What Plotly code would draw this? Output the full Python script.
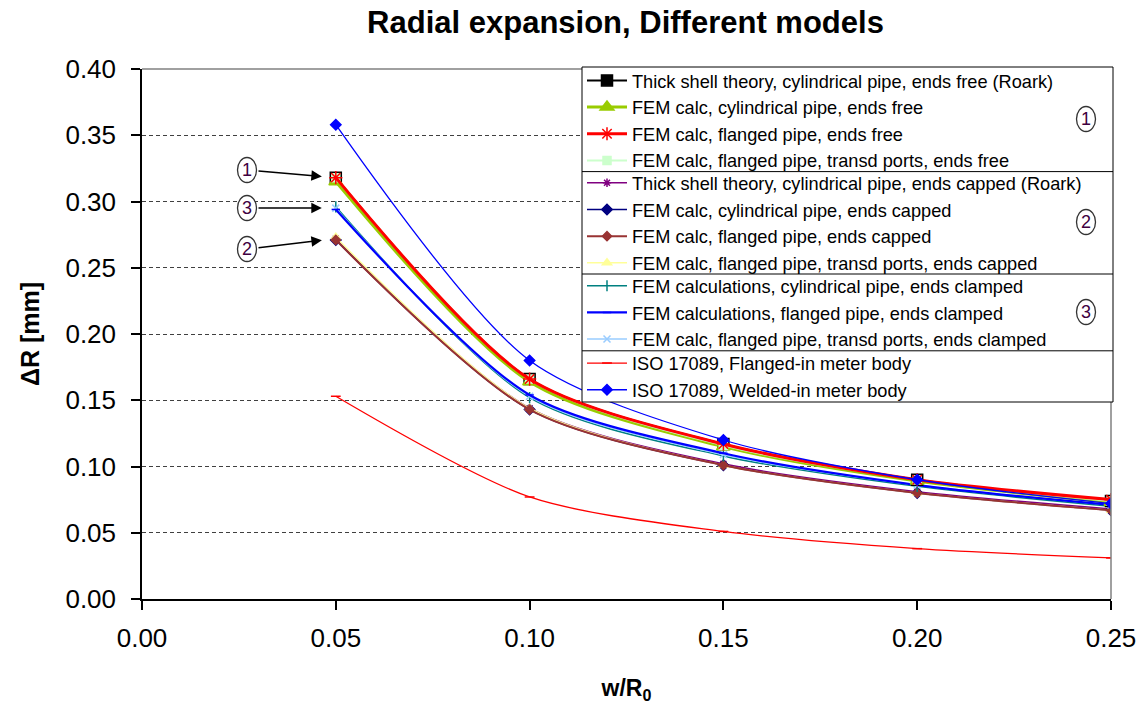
import plotly.graph_objects as go

# ---------------- data ----------------
x_vals = [0.05, 0.10, 0.15, 0.20, 0.25]

names = [
    "Thick shell theory, cylindrical pipe, ends free (Roark)",
    "FEM calc, cylindrical pipe, ends free",
    "FEM calc, flanged pipe, ends free",
    "FEM calc, flanged pipe, transd ports, ends free",
    "Thick shell theory, cylindrical pipe, ends capped (Roark)",
    "FEM calc, cylindrical pipe, ends capped",
    "FEM calc, flanged pipe, ends capped",
    "FEM calc, flanged pipe, transd ports, ends capped",
    "FEM calculations, cylindrical pipe, ends clamped",
    "FEM calculations, flanged pipe, ends clamped",
    "FEM calc, flanged pipe, transd ports, ends clamped",
    "ISO 17089, Flanged-in meter body",
    "ISO 17089, Welded-in meter body",
]
# legend block of each series (1: ends free, 2: ends capped, 3: ends clamped, 4: ISO)
groups = [1, 1, 1, 1, 2, 2, 2, 2, 3, 3, 3, 4, 4]

thick_free = [0.318, 0.166, 0.117, 0.090, 0.074]
fem_cyl_free = [0.315, 0.164, 0.115, 0.089, 0.073]
fem_fl_free = [0.318, 0.166, 0.117, 0.090, 0.075]
fem_tp_free = [0.318, 0.166, 0.116, 0.090, 0.074]
thick_capped = [0.272, 0.144, 0.102, 0.081, 0.068]
fem_cyl_capped = [0.271, 0.143, 0.101, 0.080, 0.067]
fem_fl_capped = [0.271, 0.143, 0.101, 0.080, 0.067]
fem_tp_capped = [0.273, 0.144, 0.101, 0.080, 0.067]
fem_cyl_clamped = [0.296, 0.152, 0.108, 0.085, 0.070]
fem_fl_clamped = [0.294, 0.154, 0.110, 0.086, 0.071]
fem_tp_clamped = [0.295, 0.153, 0.109, 0.086, 0.071]
iso_flanged = [0.153, 0.077, 0.051, 0.038, 0.031]
iso_welded = [0.358, 0.180, 0.120, 0.090, 0.072]

series = [thick_free, fem_cyl_free, fem_fl_free, fem_tp_free,
          thick_capped, fem_cyl_capped, fem_fl_capped, fem_tp_capped,
          fem_cyl_clamped, fem_fl_clamped, fem_tp_clamped,
          iso_flanged, iso_welded]

colors = ["#000000", "#99CC00", "#FF0000", "#CCFFCC",
          "#800080", "#000080", "#993333", "#FFFF99",
          "#008080", "#0000FF", "#99CCFF",
          "#FF0000", "#0000FF"]
widths = [2, 3, 3, 2, 1.5, 1.5, 2, 1.5, 1.5, 2.2, 1.5, 1.3, 1.3]
symbols = ["square", "triangle-up", "asterisk-open", "square",
           "asterisk-open", "diamond", "diamond", "triangle-up",
           "line-ns-open", "line-ew-open", "x-thin-open",
           "line-ew-open", "diamond"]
msizes = [11, 12, 11, 8, 7, 8, 7, 8, 8, 6, 7, 7, 8]

# drawing order (later = on top); legend keeps the list order above
draw_order = [4, 5, 7, 6, 8, 10, 9, 0, 1, 3, 2, 11, 12]

x_ticks = [0.00, 0.05, 0.10, 0.15, 0.20, 0.25]
y_ticks = [0.00, 0.05, 0.10, 0.15, 0.20, 0.25, 0.30, 0.35, 0.40]

FONT = "Liberation Sans, Arial, sans-serif"
LEG_FONT = 18.2
ROW_H = LEG_FONT * 1.3 + 3  # plotly legend row height

legend_ids = {1: "legend", 2: "legend2", 3: "legend3", 4: "legend4"}

fig = go.Figure()
for i in draw_order:
    c = colors[i]
    fig.add_trace(go.Scatter(
        x=x_vals, y=series[i], name=names[i], mode="lines+markers",
        legend=legend_ids[groups[i]], legendrank=i + 1,
        line=dict(color=c, width=widths[i], shape="spline", smoothing=0.8),
        marker=dict(symbol=symbols[i], size=msizes[i], color=c,
                    line=dict(color=c, width=1.5)),
    ))

# plot area pixel geometry
L, R, T, B = 142, 1111, 69, 599
W, H = R - L, B - T
def px(xp):
    return (xp - L) / W
def py(yp):
    return (B - yp) / H

shapes = []
# top and right frame lines (gray)
shapes.append(dict(type="line", xref="paper", yref="paper", x0=0, x1=1, y0=1, y1=1,
                   line=dict(color="#808080", width=1.5)))
shapes.append(dict(type="line", xref="paper", yref="paper", x0=1, x1=1, y0=0, y1=1,
                   line=dict(color="#808080", width=1.5)))

# legend frame (white box) and group separators
LEG_L, LEG_R, LEG_T, LEG_B = 582, 1113, 67, 402
REF_ROW0, REF_ROW_H = 82, 25.6
shapes.append(dict(type="rect", xref="paper", yref="paper", layer="above",
                   x0=px(LEG_L), x1=px(LEG_R), y0=py(LEG_B), y1=py(LEG_T),
                   fillcolor="white", line=dict(color="black", width=1)))
for k in [3.5, 7.5, 10.5]:
    sy = REF_ROW0 + k * REF_ROW_H
    shapes.append(dict(type="line", xref="paper", yref="paper", layer="above",
                       x0=px(LEG_L), x1=px(LEG_R), y0=py(sy), y1=py(sy),
                       line=dict(color="#000000", width=1)))

annotations = []
def circle_shape(cx, cy):
    shapes.append(dict(type="circle", xref="paper", yref="paper", layer="above",
                       x0=px(cx - 9.5), x1=px(cx + 9.5), y0=py(cy + 12.5), y1=py(cy - 12.5),
                       line=dict(color="#333333", width=1.3), fillcolor="white"))

DIGIT_FONT = dict(family=FONT, size=18, color="#400040")

# circled labels with arrows pointing at the groups (label at arrow tail)
for label, yv, cy in [("1", thick_free[0], 170), ("3", fem_tp_clamped[0], 208), ("2", thick_capped[0], 249)]:
    circle_shape(247, cy)
    head_y = B - yv / 0.40 * H
    x_head = L + x_vals[0] / 0.25 * W
    annotations.append(dict(x=x_vals[0], y=yv, xref="x", yref="y", text=label,
                            font=DIGIT_FONT, borderpad=6,
                            showarrow=True, ax=247 - x_head, ay=cy - head_y,
                            axref="pixel", ayref="pixel",
                            arrowhead=2, arrowsize=1.4, arrowwidth=1.5, arrowcolor="#000000",
                            standoff=14))

# circled group numbers inside the legend
for label, cy in [("1", 119), ("2", 222), ("3", 312)]:
    circle_shape(1086, cy)
    annotations.append(dict(xref="paper", yref="paper", x=px(1086), y=py(cy), text=label,
                            showarrow=False, font=DIGIT_FONT,
                            xanchor="center", yanchor="middle"))

# one native legend per block, centred on the reference rows
legend_layouts = {}
row_start = 0
for g, n in [(1, 4), (2, 4), (3, 3), (4, 2)]:
    mean_center = REF_ROW0 + (row_start + (n - 1) / 2) * REF_ROW_H
    top = mean_center - n * ROW_H / 2 - 5
    legend_layouts[legend_ids[g]] = dict(
        x=px(LEG_L), y=py(top), xanchor="left", yanchor="top",
        bgcolor="rgba(0,0,0,0)", borderwidth=0,
        font=dict(family=FONT, size=LEG_FONT, color="black"),
        itemwidth=40, tracegroupgap=0, traceorder="normal")
    row_start += n

fig.update_layout(
    width=1144, height=704,
    margin=dict(l=L, r=1144 - R, t=T, b=704 - B, autoexpand=False),
    paper_bgcolor="white", plot_bgcolor="white",
    title=dict(text="<b>Radial expansion, Different models</b>", x=625.5 / 1144,
               xanchor="center", y=1 - 22 / 704, yanchor="middle",
               font=dict(family=FONT, size=31, color="black")),
    xaxis=dict(range=[0, 0.25], tickvals=x_ticks, tickformat=".2f",
               showline=True, linecolor="black", linewidth=1.5,
               ticks="outside", ticklen=9, tickcolor="black", tickwidth=1.5,
               ticklabelstandoff=6, automargin=False,
               showgrid=False, zeroline=False,
               tickfont=dict(family=FONT, size=26, color="black"),
               title=dict(text="<b>w/R<sub>0</sub></b>", standoff=29,
                          font=dict(family=FONT, size=23, color="black"))),
    yaxis=dict(range=[0, 0.40], tickvals=y_ticks, tickformat=".2f",
               showline=True, linecolor="black", linewidth=1.5,
               ticks="outside", ticklen=9, tickcolor="black", tickwidth=1.5,
               ticklabelstandoff=10, automargin=False,
               showgrid=True, gridcolor="#404040", gridwidth=1, griddash="4px,3px",
               zeroline=False,
               tickfont=dict(family=FONT, size=26, color="black"),
               title=dict(text="<b>ΔR [mm]</b>", standoff=19,
                          font=dict(family=FONT, size=25, color="black"))),
    shapes=shapes,
    annotations=annotations,
    showlegend=True,
    **legend_layouts,
)

fig.write_html("out.html")
